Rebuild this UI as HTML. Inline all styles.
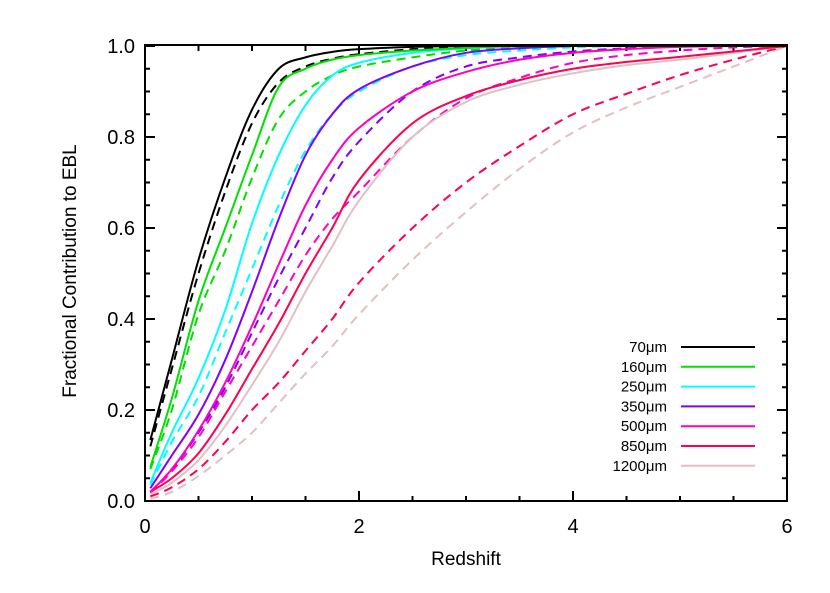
<!DOCTYPE html>
<html><head><meta charset="utf-8"><style>
body{margin:0;background:#fff;}
svg{display:block;font-family:"Liberation Sans","DejaVu Sans",sans-serif;}
</style></head><body>
<svg id="chart" width="830" height="593" viewBox="0 0 830 593" xmlns="http://www.w3.org/2000/svg">
<g id="axes"></g>
<g id="series"></g>
<g id="legend"></g>
</svg>
<script>
const zGrid = [0.05,0.25,0.5,0.75,1,1.25,1.5,1.75,2,2.5,3,3.5,4,4.5,5,5.5,6];
const s70  = [0.134,0.31,0.53,0.71,0.86,0.95,0.975,0.987,0.993,0.998,1,1,1,1,1,1,1];
const d70  = [0.12,0.29,0.50,0.68,0.83,0.92,0.955,0.972,0.982,0.993,0.998,1,1,1,1,1,1];
const s160 = [0.075,0.225,0.44,0.60,0.76,0.91,0.95,0.97,0.98,0.99,0.996,1,1,1,1,1,1];
const d160 = [0.07,0.20,0.41,0.55,0.71,0.84,0.90,0.935,0.955,0.975,0.99,0.996,1,1,1,1,1];
const s250 = [0.04,0.15,0.27,0.42,0.61,0.76,0.87,0.935,0.963,0.985,0.995,1,1,1,1,1,1];
const d250 = [0.035,0.13,0.23,0.37,0.51,0.65,0.77,0.85,0.90,0.955,0.98,0.99,0.997,1,1,1,1];
const s350 = [0.028,0.10,0.19,0.31,0.46,0.62,0.76,0.85,0.905,0.955,0.985,0.995,1,1,1,1,1];
const d350 = [0.02,0.07,0.15,0.25,0.37,0.49,0.60,0.71,0.79,0.90,0.955,0.975,0.988,0.995,1,1,1];
const s500 = [0.02,0.07,0.155,0.26,0.385,0.52,0.65,0.75,0.82,0.90,0.943,0.97,0.985,0.993,0.998,1,1];
const d500 = [0.018,0.065,0.14,0.24,0.34,0.44,0.54,0.62,0.68,0.80,0.885,0.93,0.963,0.98,0.99,0.997,1];
const s850 = [0.02,0.05,0.105,0.19,0.29,0.39,0.50,0.60,0.705,0.83,0.89,0.925,0.95,0.965,0.976,0.988,1];
const d850 = [0.01,0.03,0.07,0.13,0.20,0.26,0.33,0.40,0.48,0.60,0.70,0.78,0.85,0.895,0.936,0.97,1];
const s1200 = [0.015,0.04,0.09,0.165,0.255,0.35,0.46,0.56,0.66,0.80,0.877,0.915,0.94,0.958,0.97,0.985,1];
const d1200 = [0.005,0.02,0.055,0.10,0.15,0.215,0.28,0.34,0.41,0.53,0.635,0.73,0.81,0.865,0.91,0.955,1];
const legendLabels = ["70\u03bcm","160\u03bcm","250\u03bcm","350\u03bcm","500\u03bcm","850\u03bcm","1200\u03bcm"];
const xTicks = [0,2,4,6];
const yTicks = [0.0,0.2,0.4,0.6,0.8,1.0];

const NS="http://www.w3.org/2000/svg";
const X0=145,X1=787,Y0=501,Y1=46;
const xs=z=>X0+(X1-X0)*z/6;
const ys=v=>Y0-(Y0-Y1)*v;
function mk(tag,attrs,parent){const e=document.createElementNS(NS,tag);for(const k in attrs)e.setAttribute(k,attrs[k]);parent.appendChild(e);return e;}
const axes=document.getElementById('axes'),ser=document.getElementById('series'),leg=document.getElementById('legend');

const frame=mk('rect',{x:X0,y:Y1-1,width:X1-X0,height:Y0-Y1+1,fill:'none',stroke:'#000','stroke-width':2},axes);


for(let t=0;t<=6.001;t+=0.5){
  const major=Math.abs(t-Math.round(t/2)*2)<1e-6;const L=major?10:5;const x=xs(t);
  const a=mk('line',{x1:x,x2:x,y1:Y0,y2:Y0-L,stroke:'#000','stroke-width':2},axes);
  
  
  const b=mk('line',{x1:x,x2:x,y1:Y1,y2:Y1+L,stroke:'#000','stroke-width':2},axes);
  
  
}
for(let i=0;i<=20;i++){
  const v=i*0.05;const major=i%4===0;const L=major?10:5;const y=ys(v);
  const a=mk('line',{x1:X0,x2:X0+L,y1:y,y2:y,stroke:'#000','stroke-width':2},axes);
  
  
  const b=mk('line',{x1:X1,x2:X1-L,y1:y,y2:y,stroke:'#000','stroke-width':2},axes);
  
  
}
xTicks.forEach(t=>{const e=mk('text',{x:xs(t),y:533,'font-size':20,'text-anchor':'middle',fill:'#000'},axes);e.textContent=String(t);
  
  });
yTicks.forEach(t=>{const e=mk('text',{x:135,y:ys(t)+7,'font-size':20,'text-anchor':'end',fill:'#000'},axes);e.textContent=t.toFixed(1);
  
  });
const xt=mk('text',{x:466,y:565,'font-size':19,'text-anchor':'middle',fill:'#000'},axes);xt.textContent='Redshift';


const yt=mk('text',{x:0,y:0,'font-size':19,'text-anchor':'middle',fill:'#000',transform:'translate(76,271) rotate(-90)'},axes);yt.textContent='Fractional Contribution to EBL';



function pathD(vals){
  const p=zGrid.map((z,i)=>[xs(z),ys(vals[i])]);
  let d=`M${p[0][0]},${p[0][1]}`;
  for(let i=0;i<p.length-1;i++){
    const p0=p[Math.max(0,i-1)],p1=p[i],p2=p[i+1],p3=p[Math.min(p.length-1,i+2)];
    let c1y=p1[1]+(p2[1]-p0[1])/6,c2y=p2[1]-(p3[1]-p1[1])/6;
    c1y=Math.max(Math.min(c1y,Math.max(p1[1],p2[1])),Math.min(p1[1],p2[1]));
    c2y=Math.max(Math.min(c2y,Math.max(p1[1],p2[1])),Math.min(p1[1],p2[1]));
    d+=` C${p1[0]+(p2[0]-p0[0])/6},${c1y} ${p2[0]-(p3[0]-p1[0])/6},${c2y} ${p2[0]},${p2[1]}`;
  }
  return d;
}
const colors=['#000000','#00e000','#00ffff','#8000ff','#ff00c0','#ff0050','#e0c0c0'];
const solids=[s70,s160,s250,s350,s500,s850,s1200];
const dashes=[d70,d160,d250,d350,d500,d850,d1200];
const names=['70um','160um','250um','350um','500um','850um','1200um'];
for(let i=colors.length-1;i>=0;i--){
  const dd=mk('path',{d:pathD(dashes[i]),fill:'none',stroke:colors[i],'stroke-width':2,'stroke-dasharray':'9 6'},ser);
  
  
}
for(let i=colors.length-1;i>=0;i--){
  const sp=mk('path',{d:pathD(solids[i]),fill:'none',stroke:colors[i],'stroke-width':2},ser);
  
  
}
legendLabels.forEach((lab,i)=>{
  const y=347+i*19.8;
  const g=mk('g',{},leg);
  
  
  const t=mk('text',{x:667,y:y+5,'font-size':15,'text-anchor':'end',fill:'#000'},g);t.textContent=lab;
  mk('line',{x1:681,x2:755,y1:y,y2:y,stroke:colors[i],'stroke-width':2},g);
});
</script>
</body></html>
